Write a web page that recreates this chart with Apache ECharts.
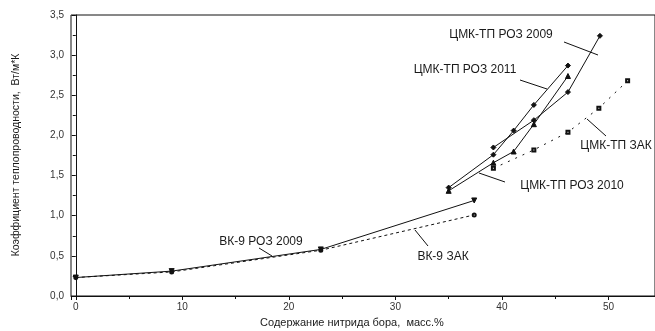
<!DOCTYPE html>
<html><head><meta charset="utf-8">
<script src="https://cdn.jsdelivr.net/npm/echarts@6/dist/echarts.min.js"></script>
<style>html,body{margin:0;padding:0;background:#fff}#c{width:655px;height:331px}</style>
</head><body><div id="c"></div>
<script>
// ---- data ----
const bk9RozX = [0, 9, 23, 37.4];
const bk9RozY = [0.23, 0.31, 0.58, 1.19];
const bk9ZakX = [0, 9, 23, 37.4];
const bk9ZakY = [0.23, 0.30, 0.57, 1.01];
const roz2011X = [35, 39.2, 41.1, 43, 46.2];
const roz2011Y = [1.35, 1.76, 2.06, 2.38, 2.87];
const roz2009X = [39.2, 43, 46.2, 49.2];
const roz2009Y = [1.85, 2.19, 2.54, 3.24];
const roz2010X = [35, 39.2, 41.1, 43, 46.2];
const roz2010Y = [1.31, 1.66, 1.80, 2.14, 2.74];
const tpZakX = [39.2, 43, 46.2, 49.1, 51.8];
const tpZakY = [1.59, 1.82, 2.04, 2.34, 2.68];
const xTitle = 'Содержание нитрида бора,  масс.%';
const yTitle = 'Коэффициент теплопроводности,  Вт/м*К';

const pairs = (xs, ys) => xs.map((x, i) => [x, ys[i]]);
const FONT = '"Liberation Sans", Arial, sans-serif';
const TXT = '#1a1a1a';

const chart = echarts.init(document.getElementById('c'), null, {renderer: 'canvas'});

function ser(name, data, symbol, size, dashed, extra) {
  return Object.assign({
    name, type: 'line', data, symbol, symbolSize: size, showSymbol: true,
    lineStyle: {color: '#111', width: 1, type: dashed || 'solid'},
    itemStyle: {color: '#111', borderColor: '#111', borderWidth: 1},
    animation: false, z: 3
  }, extra || {});
}

const labels = [
  {t: 'ЦМК-ТП РОЗ 2009', x: 501, y: 35, l: [564, 42, 598, 55]},
  {t: 'ЦМК-ТП РОЗ 2011', x: 465, y: 70, l: [520, 80, 547, 89]},
  {t: 'ЦМК-ТП ЗАК', x: 616, y: 146, l: [587, 119, 606, 136]},
  {t: 'ЦМК-ТП РОЗ 2010', x: 572, y: 186, l: [479, 173, 505, 182]},
  {t: 'ВК-9 РОЗ 2009', x: 261, y: 242, l: [259, 248, 272, 256]},
  {t: 'ВК-9 ЗАК', x: 443, y: 257, l: [415, 230, 428, 246]}
];
const graphics = [];
labels.forEach(a => {
  graphics.push({type: 'text', x: a.x, y: a.y, style: {text: a.t, fill: TXT, font: '12px ' + FONT, textAlign: 'center', textVerticalAlign: 'middle'}});
  graphics.push({type: 'line', shape: {x1: a.l[0], y1: a.l[1], x2: a.l[2], y2: a.l[3]}, style: {stroke: '#111', lineWidth: 1}});
});
graphics.push({type: 'text', x: 352, y: 323, style: {text: xTitle, fill: TXT, font: '11px ' + FONT, textAlign: 'center', textVerticalAlign: 'middle'}});
graphics.push({type: 'text', x: 16, y: 155, rotation: Math.PI / 2, style: {text: yTitle, fill: TXT, font: '10.5px ' + FONT, textAlign: 'center', textVerticalAlign: 'middle'}});

const thin = {itemStyle: {color: '#111', borderColor: '#111', borderWidth: 0.7}, z: 2};

chart.setOption({
  backgroundColor: '#fff',
  animation: false,
  grid: {left: 71, right: -2, top: 15, bottom: 35, show: true, borderColor: '#111', borderWidth: 1, backgroundColor: 'transparent'},
  xAxis: {
    type: 'value', min: -0.45, max: 54.37, splitNumber: 5,
    axisLine: {lineStyle: {color: '#111', width: 1}},
    axisTick: {inside: false, length: 4, lineStyle: {color: '#111'}},
    minorTick: {show: true, splitNumber: 2, length: 3, lineStyle: {color: '#111'}},
    splitLine: {show: false},
    axisLabel: {showMinLabel: false, showMaxLabel: false, color: '#333', fontSize: 10, fontFamily: FONT, margin: 6}
  },
  yAxis: {
    type: 'value', min: 0, max: 3.5, interval: 0.5,
    axisLine: {show: true, lineStyle: {color: '#111', width: 1}},
    axisTick: {show: true, inside: false, length: 4, lineStyle: {color: '#111'}},
    minorTick: {show: true, splitNumber: 2, length: 3, lineStyle: {color: '#111'}},
    splitLine: {show: false},
    axisLabel: {color: '#333', fontSize: 10, fontFamily: FONT, margin: 7, formatter: v => v.toFixed(1).replace('.', ',')}
  },
  series: [
    ser('ВК-9 ЗАК', pairs(bk9ZakX, bk9ZakY), 'emptyCircle', 3, [3, 3], thin),
    ser('ВК-9 РОЗ 2009', pairs(bk9RozX, bk9RozY), 'triangle', 5, 'solid', {symbolRotate: 180}),
    ser('ЦМК-ТП ЗАК', pairs(tpZakX, tpZakY), 'emptyRect', 3, [2, 6], thin),
    ser('ЦМК-ТП РОЗ 2011', pairs(roz2011X, roz2011Y), 'diamond', 5),
    ser('ЦМК-ТП РОЗ 2009', pairs(roz2009X, roz2009Y), 'diamond', 5),
    ser('ЦМК-ТП РОЗ 2010', pairs(roz2010X, roz2010Y), 'triangle', 5)
  ],
  graphic: graphics
});
</script></body></html>
